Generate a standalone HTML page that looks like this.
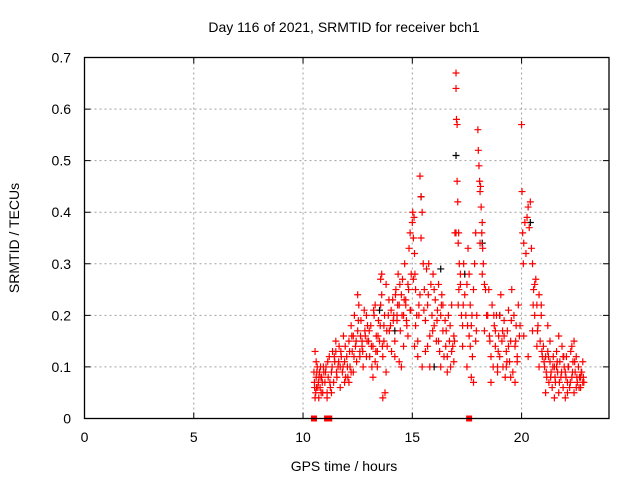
<!DOCTYPE html>
<html><head><meta charset="utf-8"><style>
html,body{margin:0;padding:0;background:#fff;}
svg{display:block;font-family:"Liberation Sans",sans-serif;}
</style></head><body>
<svg id="chart" width="640" height="480" viewBox="0 0 640 480" xmlns="http://www.w3.org/2000/svg">
<rect width="640" height="480" fill="#fff"/>
<text x="344" y="32" font-size="14" text-anchor="middle" fill="#000">Day 116 of 2021, SRMTID for receiver bch1</text>
<text x="344" y="471" font-size="14" text-anchor="middle" fill="#000">GPS time / hours</text>
<text transform="translate(19,238) rotate(-90)" font-size="14" text-anchor="middle" fill="#000">SRMTID / TECUs</text>
<g id="grid"></g>
<g id="marks"></g>
<rect x="84.5" y="57.5" width="524.5" height="361" fill="none" stroke="#000" stroke-width="1.3"/>
<g id="ticks"></g>
</svg>
<script>
const xTicks=[0,5,10,15,20];
const yTicks=[0,0.1,0.2,0.3,0.4,0.5,0.6,0.7];
const yTickLabels=["0","0.1","0.2","0.3","0.4","0.5","0.6","0.7"];
const redTimes=[
10.5,10.52,10.55,10.58,10.6,10.62,10.65,10.7,10.72,10.75,10.78,10.8,10.85,10.88,10.9,10.95,10.55,10.6,10.68,10.82,
11.0,11.05,11.1,11.15,11.2,11.25,11.3,11.35,11.4,11.45,11.5,11.55,11.6,11.65,11.7,11.75,11.8,11.85,11.9,11.95,11.1,11.3,11.5,11.7,11.9,
12.0,12.05,12.1,12.15,12.2,12.25,12.3,12.35,12.4,12.45,12.5,12.55,12.6,12.65,12.7,12.75,12.8,12.85,12.9,12.95,12.1,12.3,12.5,12.7,12.9,12.2,12.6,
13.0,13.05,13.1,13.15,13.2,13.25,13.3,13.35,13.4,13.45,13.5,13.55,13.6,13.65,13.7,13.75,13.8,13.85,13.9,13.95,13.2,13.4,13.6,13.8,13.3,13.7,13.55,13.65,
14.0,14.05,14.1,14.15,14.2,14.25,14.3,14.35,14.4,14.45,14.5,14.55,14.6,14.65,14.7,14.75,14.8,14.85,14.9,14.95,14.2,14.4,14.6,14.8,14.3,14.7,14.5,14.9,
15.0,15.02,15.05,15.08,15.1,15.12,15.15,15.2,15.25,15.3,15.35,15.4,15.45,15.5,15.05,15.15,15.25,15.35,15.45,15.4,15.1,15.3,
15.55,15.6,15.65,15.7,15.75,15.8,15.85,15.9,15.95,16.0,16.05,16.1,16.15,16.2,16.25,16.3,16.35,16.4,16.45,16.5,15.6,15.8,16.0,16.2,16.4,15.7,16.3,
16.55,16.6,16.65,16.7,16.75,16.8,16.85,16.9,16.95,17.0,17.0,17.02,17.05,17.05,17.08,17.1,17.12,17.15,17.2,17.25,17.3,17.35,17.4,16.6,16.8,17.0,17.1,17.2,17.3,16.9,
17.45,17.5,17.55,17.6,17.65,17.7,17.75,17.8,17.85,17.9,17.95,17.5,17.6,17.7,17.8,17.9,17.65,
18.0,18.02,18.05,18.08,18.1,18.12,18.15,18.18,18.2,18.22,18.25,18.3,18.35,18.4,18.1,18.2,18.3,
18.45,18.5,18.55,18.6,18.65,18.7,18.75,18.8,18.85,18.9,18.95,19.0,19.05,19.1,19.15,19.2,19.25,19.3,19.35,19.4,19.45,19.5,19.55,19.6,19.65,19.7,19.75,19.8,19.85,19.9,18.6,18.9,19.2,19.5,19.8,19.0,19.4,19.7,18.8,19.3,
20.0,20.02,20.05,20.08,20.1,20.15,20.2,20.25,20.3,20.35,20.4,20.45,20.5,20.55,20.6,20.65,20.7,20.75,20.8,20.85,20.9,20.95,20.1,20.3,20.5,20.7,20.9,20.6,20.8,
21.0,21.05,21.1,21.15,21.2,21.25,21.3,21.35,21.4,21.45,21.5,21.55,21.6,21.65,21.7,21.75,21.8,21.85,21.9,21.95,22.0,22.05,22.1,22.15,22.2,22.25,22.3,22.35,22.4,22.45,22.5,22.55,22.6,22.65,22.7,22.75,22.8,22.85,21.1,21.3,21.5,21.7,21.9,22.1,22.3,22.5,22.7,21.2,21.6,22.0,22.4,22.8
];
const redValues=[
0.09,0.07,0.13,0.05,0.08,0.06,0.1,0.07,0.04,0.09,0.06,0.1,0.08,0.07,0.05,0.09,0.04,0.11,0.06,0.08,
0.07,0.1,0.05,0.08,0.12,0.06,0.09,0.13,0.07,0.11,0.15,0.08,0.1,0.14,0.06,0.12,0.09,0.16,0.11,0.08,0.04,0.05,0.13,0.1,0.07,
0.12,0.08,0.15,0.1,0.18,0.13,0.09,0.2,0.14,0.11,0.17,0.22,0.13,0.19,0.15,0.1,0.21,0.16,0.12,0.18,0.07,0.16,0.24,0.14,0.2,0.09,0.12,
0.15,0.12,0.18,0.1,0.14,0.2,0.11,0.16,0.13,0.19,0.15,0.22,0.28,0.12,0.18,0.05,0.26,0.14,0.2,0.17,0.08,0.1,0.24,0.09,0.22,0.15,0.27,0.04,
0.18,0.13,0.23,0.2,0.15,0.25,0.19,0.28,0.22,0.17,0.24,0.27,0.2,0.3,0.23,0.18,0.26,0.33,0.21,0.28,0.12,0.11,0.14,0.16,0.2,0.22,0.1,0.36,
0.38,0.4,0.35,0.39,0.32,0.28,0.25,0.2,0.15,0.22,0.47,0.43,0.4,0.3,0.27,0.18,0.12,0.24,0.1,0.35,0.14,0.2,
0.25,0.19,0.29,0.22,0.3,0.16,0.26,0.2,0.28,0.18,0.23,0.15,0.21,0.26,0.13,0.2,0.24,0.17,0.12,0.19,0.13,0.1,0.25,0.15,0.22,0.14,0.1,
0.17,0.12,0.2,0.15,0.1,0.22,0.14,0.16,0.36,0.67,0.64,0.58,0.57,0.46,0.42,0.34,0.36,0.3,0.26,0.2,0.18,0.3,0.24,0.09,0.13,0.36,0.22,0.28,0.14,0.11,
0.2,0.26,0.33,0.16,0.22,0.18,0.12,0.25,0.3,0.15,0.2,0.1,0.28,0.08,0.07,0.36,0.14,
0.56,0.52,0.49,0.46,0.44,0.45,0.41,0.36,0.38,0.33,0.3,0.26,0.25,0.2,0.34,0.28,0.17,
0.2,0.25,0.15,0.12,0.22,0.1,0.18,0.14,0.2,0.09,0.16,0.12,0.24,0.15,0.1,0.19,0.08,0.13,0.17,0.21,0.11,0.15,0.25,0.09,0.2,0.14,0.18,0.12,0.22,0.16,0.07,0.1,0.16,0.08,0.11,0.2,0.14,0.07,0.17,0.1,
0.57,0.44,0.36,0.3,0.34,0.38,0.32,0.39,0.41,0.37,0.42,0.33,0.3,0.25,0.2,0.27,0.22,0.18,0.24,0.15,0.2,0.12,0.16,0.12,0.17,0.14,0.22,0.26,0.1,
0.14,0.1,0.12,0.08,0.13,0.07,0.11,0.09,0.06,0.12,0.1,0.07,0.13,0.09,0.05,0.11,0.08,0.14,0.06,0.1,0.09,0.12,0.07,0.1,0.06,0.13,0.08,0.11,0.05,0.09,0.12,0.07,0.1,0.08,0.06,0.09,0.11,0.07,0.05,0.15,0.04,0.16,0.12,0.05,0.14,0.06,0.08,0.18,0.1,0.04,0.15,0.07
];
const redTimes2=[
10.53,10.63,10.73,10.83,10.93,11.03,11.13,11.23,11.33,11.43,
11.53,11.63,11.73,11.83,11.93,12.03,12.13,12.23,12.33,12.43,
12.53,12.63,12.73,12.83,12.93,13.03,13.13,13.23,13.33,13.43,
13.53,13.63,13.73,13.83,13.93,14.03,14.13,14.23,14.33,14.43,
14.53,14.63,14.73,14.83,14.93,15.53,15.73,15.93,16.13,16.33,
16.53,16.73,16.93,17.13,17.33,17.53,17.73,17.93,18.53,18.73,
18.93,19.13,19.33,19.53,19.73,19.93,20.53,20.73,20.93,21.03,
21.13,21.23,21.33,21.43,21.53,21.63,21.73,21.83,21.93,22.03,
22.13,22.23,22.33,22.43,22.53,22.63,22.73,22.83
];
const redValues2=[
0.06,0.09,0.08,0.05,0.1,0.09,0.11,0.07,0.1,0.12,
0.09,0.11,0.13,0.1,0.14,0.1,0.13,0.16,0.12,0.15,
0.19,0.16,0.13,0.17,0.15,0.17,0.14,0.21,0.13,0.16,
0.18,0.14,0.2,0.17,0.23,0.21,0.19,0.24,0.22,0.26,
0.2,0.23,0.19,0.25,0.21,0.21,0.24,0.17,0.19,0.22,
0.14,0.18,0.15,0.25,0.22,0.18,0.2,0.17,0.16,0.2,
0.13,0.17,0.11,0.19,0.15,0.18,0.22,0.17,0.13,0.11,
0.09,0.12,0.08,0.1,0.08,0.11,0.07,0.09,0.12,0.08,
0.1,0.07,0.09,0.11,0.08,0.06,0.09,0.08
];
const blackTimes=[15.4,17.0,16.3,17.4,13.5,19.0,14.2,18.2,16.0,20.4];
const blackValues=[0.43,0.51,0.29,0.28,0.21,0.2,0.17,0.34,0.1,0.38];
const zeroTimes=[10.5,11.1,11.2,17.6];

const X0=84.5,X1=609,Y0=418.5,Y1=57.5,XMAX=24,YMAX=0.7;
function xs(t){return X0+(t/XMAX)*(X1-X0);}
function ys(v){return Y0-(v/YMAX)*(Y0-Y1);}
const NS="http://www.w3.org/2000/svg";
const grid=document.getElementById('grid'),ticks=document.getElementById('ticks'),marks=document.getElementById('marks');
function mk(tag,attrs,parent){const e=document.createElementNS(NS,tag);for(const k in attrs)e.setAttribute(k,attrs[k]);parent.appendChild(e);return e;}
xTicks.forEach(function(t){
  const x=xs(t);
  if(t>0){const g=mk('line',{x1:x,x2:x,y1:Y1,y2:Y0,stroke:'#a0a0a0','stroke-dasharray':'2,3','stroke-width':1},grid);
  
  }
  const tk=mk('path',{d:'M'+x+' '+Y0+'v-6M'+x+' '+Y1+'v6',stroke:'#000','stroke-width':1},ticks);
  
  
  const lb=mk('text',{x:x,y:442,'font-size':14,'text-anchor':'middle'},ticks);lb.textContent=String(t);
  
  
});
yTicks.forEach(function(v,i){
  const y=ys(v);
  if(i>0&&i<yTicks.length-1){const g=mk('line',{x1:X0,x2:X1,y1:y,y2:y,stroke:'#a0a0a0','stroke-dasharray':'2,3','stroke-width':1},grid);
  
  }
  const tk=mk('path',{d:'M'+X0+' '+y+'h6M'+X1+' '+y+'h-6',stroke:'#000','stroke-width':1},ticks);
  
  
  const lb=mk('text',{x:71,y:y+5,'font-size':14,'text-anchor':'end'},ticks);lb.textContent=yTickLabels[i];
  
  
});
function plus(t,v,color,name){
  const x=xs(t),y=ys(v);
  const p=mk('path',{d:'M'+(x-3.5)+' '+y+'h7M'+x+' '+(y-3.5)+'v7',stroke:color,'stroke-width':1.2,fill:'none'},marks);
  
  
}
blackTimes.forEach(function(t,i){plus(t,blackValues[i],'#000','black-point');});
redTimes.forEach(function(t,i){plus(t,redValues[i],'#ff0000','red-point');});
redTimes2.forEach(function(t,i){plus(t,redValues2[i],'#ff0000','red-point');});
zeroTimes.forEach(function(t){
  const r=mk('rect',{x:xs(t)-3,y:Y0-3,width:6,height:6,fill:'#ff0000'},marks);
  
  
});
</script>
</body></html>
